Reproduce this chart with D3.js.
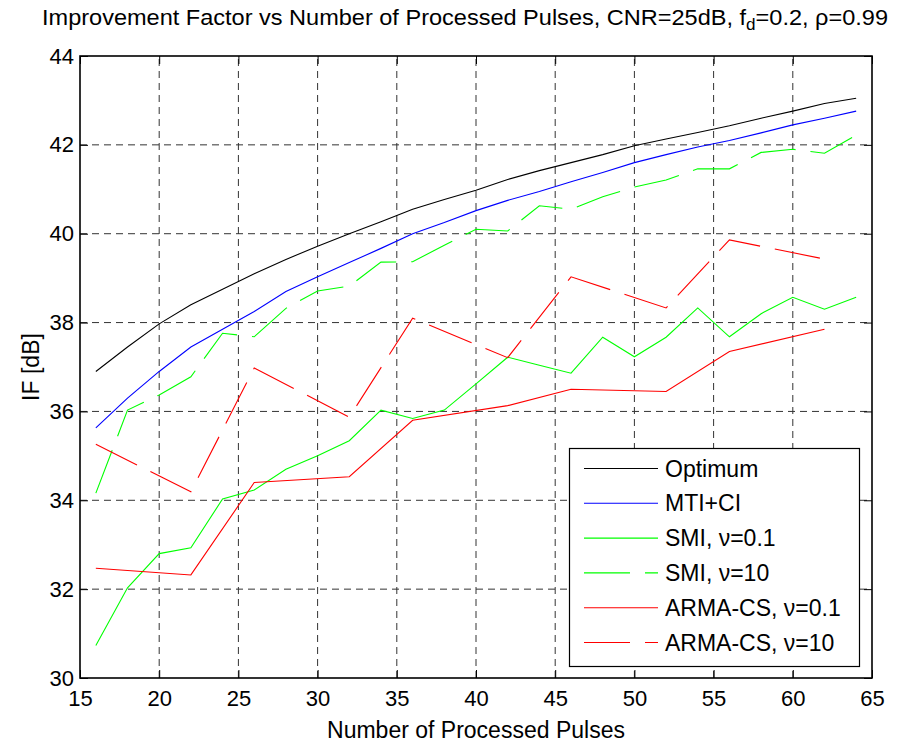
<!DOCTYPE html>
<html>
<head>
  <meta charset="utf-8">
  <title>Improvement Factor vs Number of Processed Pulses</title>
  <script src="https://cdn.jsdelivr.net/npm/d3@7/dist/d3.min.js"></script>
  <style>
    body { margin: 0; background: #fff; }
    text { font-family: "Liberation Sans", Arial, Helvetica, sans-serif; fill: #000; }
    .tick text { font-size: 22px; }
  </style>
</head>
<body>
  <svg id="chart" width="904" height="745"></svg>

  <script>
    // pulses for the smooth series, and for the ARMA-CS runs
    var pulses = [16, 18, 20, 22, 24, 26, 28, 30, 32, 34, 36, 38, 40, 42, 44, 46, 48, 50, 52, 54, 56, 58, 60, 62, 64];
    var armaPulses = [16, 22, 26, 32, 36, 42, 46, 52, 56, 62];

    var optimum = [36.9, 37.45, 37.97, 38.4, 38.75, 39.1, 39.42, 39.72, 40.0, 40.27, 40.55, 40.77, 40.98,
      41.22, 41.42, 41.6, 41.78, 41.98, 42.13, 42.28, 42.43, 42.6, 42.76, 42.93, 43.05];
    var mtiCi = [35.63, 36.3, 36.9, 37.45, 37.85, 38.25, 38.7, 39.03, 39.35, 39.67, 40.0, 40.25, 40.52,
      40.75, 40.95, 41.17, 41.38, 41.6, 41.78, 41.95, 42.1, 42.27, 42.45, 42.6, 42.76];
    var smi01 = [30.73, 32.03, 32.8, 32.93, 34.03, 34.23, 34.7, 35.0, 35.34, 36.03, 35.84, 36.03, 36.62,
      37.22, 37.04, 36.86, 37.67, 37.23, 37.67, 38.33, 37.68, 38.2, 38.57, 38.3, 38.57];
    var smi10 = [34.16, 36.03, 36.37, 36.78, 37.76, 37.68, 38.32, 38.71, 38.82, 39.36, 39.37, 39.74, 40.1,
      40.06, 40.63, 40.55, 40.83, 41.05, 41.21, 41.46, 41.46, 41.83, 41.9, 41.81, 42.22];
    var arma01 = [32.47, 32.32, 34.4, 34.53, 35.8, 36.13, 36.5, 36.45, 37.35, 37.85];
    var arma10 = [35.26, 34.19, 36.98, 35.87, 38.1, 37.21, 39.03, 38.33, 39.86, 39.43];

    var xTicks = [15, 20, 25, 30, 35, 40, 45, 50, 55, 60, 65];
    var yTicks = [30, 32, 34, 36, 38, 40, 42, 44];

    var series = [
      { name: "Optimum", x: pulses, y: optimum, color: "#000000", dashed: false },
      { name: "MTI+CI", x: pulses, y: mtiCi, color: "#0000ff", dashed: false },
      { name: "SMI, ν=0.1", x: pulses, y: smi01, color: "#00ff00", dashed: false },
      { name: "SMI, ν=10", x: pulses, y: smi10, color: "#00ff00", dashed: true },
      { name: "ARMA-CS, ν=0.1", x: armaPulses, y: arma01, color: "#ff0000", dashed: false },
      { name: "ARMA-CS, ν=10", x: armaPulses, y: arma10, color: "#ff0000", dashed: true }
    ];

    var svg = d3.select("#chart"),
      plotLeft = 80, plotRight = 872, plotTop = 56, plotBottom = 678;

    var x = d3.scaleLinear().domain([15, 65]).range([plotLeft, plotRight]);
    var y = d3.scaleLinear().domain([30, 44]).range([plotBottom, plotTop]);

    // grid
    var grid = svg.append("g")
      .attr("stroke", "#333")
      .attr("stroke-width", 1)
      .attr("stroke-dasharray", "7,5");
    grid.selectAll(".gx")
      .data(xTicks.slice(1, -1))
      .enter()
      .append("line")
      .attr("x1", d => x(d)).attr("x2", d => x(d))
      .attr("y1", plotBottom).attr("y2", plotTop);
    grid.selectAll(".gy")
      .data(yTicks.slice(1, -1))
      .enter()
      .append("line")
      .attr("y1", d => y(d)).attr("y2", d => y(d))
      .attr("x1", plotLeft).attr("x2", plotRight);

    // axes with inward ticks on all sides
    svg.append("g")
      .attr("transform", "translate(0," + plotBottom + ")")
      .call(d3.axisBottom(x).tickValues(xTicks).tickSize(-8).tickPadding(12).tickFormat(d3.format("d")));
    svg.append("g")
      .attr("transform", "translate(0," + plotTop + ")")
      .call(d3.axisTop(x).tickValues(xTicks).tickSize(-8).tickFormat(""));
    svg.append("g")
      .attr("transform", "translate(" + plotLeft + ",0)")
      .call(d3.axisLeft(y).tickValues(yTicks).tickSize(-8).tickPadding(6).tickFormat(d3.format("d")));
    svg.append("g")
      .attr("transform", "translate(" + plotRight + ",0)")
      .call(d3.axisRight(y).tickValues(yTicks).tickSize(-8).tickFormat(""));
    svg.selectAll(".domain").remove();
    svg.selectAll(".tick line").attr("stroke", "#000");
    svg.selectAll(".tick text").attr("font-family", null);

    // lines
    var line = d3.line()
      .x(d => x(d[0]))
      .y(d => y(d[1]));

    svg.append("g")
      .selectAll("path")
      .data(series)
      .enter()
      .append("path")
      .attr("d", s => line(s.x.map((v, i) => [v, s.y[i]])))
      .attr("fill", "none")
      .attr("stroke", s => s.color)
      .attr("stroke-width", 1.1)
      .attr("stroke-dasharray", s => s.dashed ? "46,15" : null);

    // box
    svg.append("rect")
      .attr("x", plotLeft).attr("y", plotTop)
      .attr("width", plotRight - plotLeft).attr("height", plotBottom - plotTop)
      .attr("fill", "none")
      .attr("stroke", "#000")
      .attr("stroke-width", 1.6);

    // legend
    var legend = svg.append("g");
    legend.append("rect")
      .attr("x", 569.5).attr("y", 448.5)
      .attr("width", 290).attr("height", 218)
      .attr("fill", "#fff")
      .attr("stroke", "#000")
      .attr("stroke-width", 1.2);
    var item = legend.selectAll(".item")
      .data(series)
      .enter()
      .append("g")
      .attr("transform", (d, i) => "translate(0," + (468.5 + i * 34.8) + ")");
    item.append("line")
      .attr("x1", 584).attr("x2", 658)
      .attr("stroke", d => d.color)
      .attr("stroke-width", 1.1)
      .attr("stroke-dasharray", d => d.dashed ? "46,15" : null);
    item.append("text")
      .attr("x", 665)
      .attr("dy", "0.35em")
      .style("font-size", "23px")
      .text(d => d.name);

    // labels
    svg.append("text")
      .attr("x", 476).attr("y", 738)
      .attr("text-anchor", "middle")
      .style("font-size", "23px")
      .text("Number of Processed Pulses");

    svg.append("text")
      .attr("transform", "translate(39,367) rotate(-90)")
      .attr("text-anchor", "middle")
      .style("font-size", "23px")
      .text("IF [dB]");

    var title = svg.append("text")
      .attr("x", 42).attr("y", 25)
      .attr("textLength", 846)
      .attr("lengthAdjust", "spacingAndGlyphs")
      .style("font-size", "22px");
    title.append("tspan").text("Improvement Factor vs Number of Processed Pulses, CNR=25dB, f");
    title.append("tspan").attr("dy", 5).style("font-size", "16px").text("d");
    title.append("tspan").attr("dy", -5).text("=0.2, ρ=0.99");
  </script>
</body>
</html>
